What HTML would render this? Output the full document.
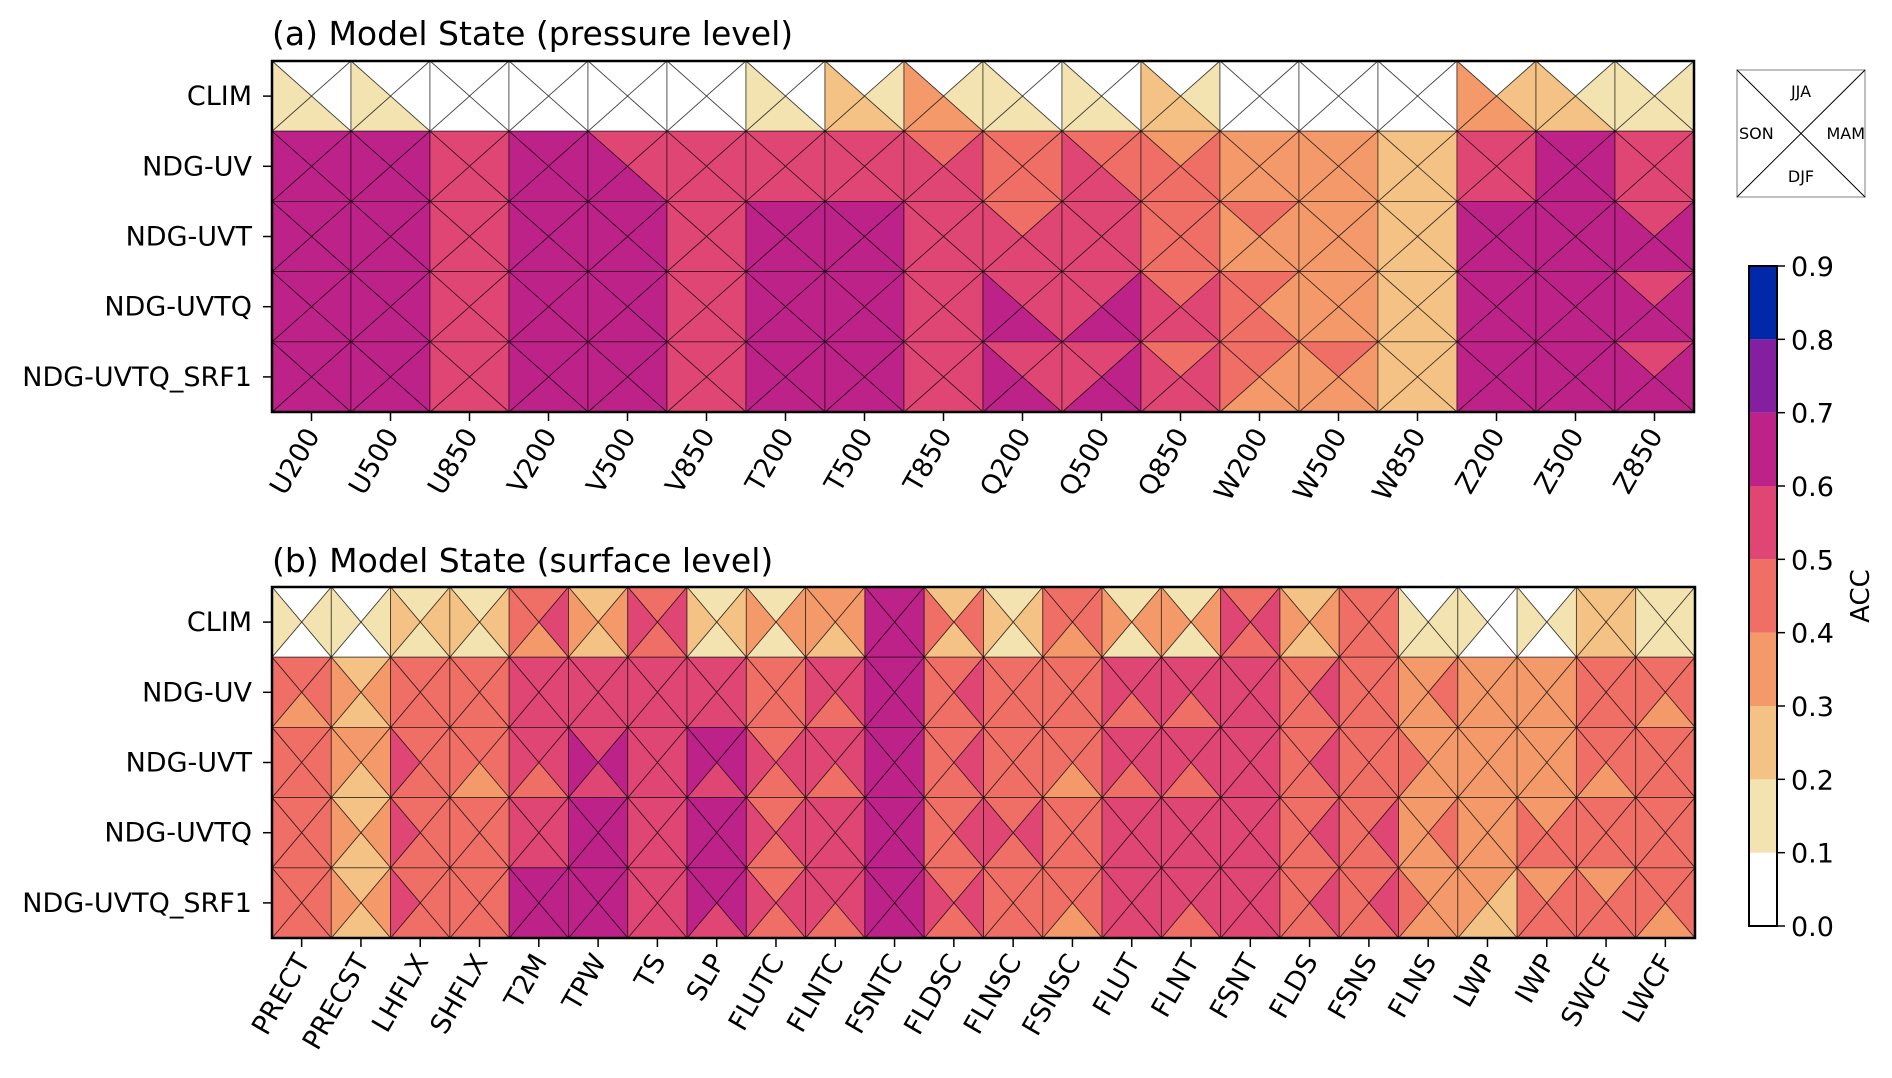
<!DOCTYPE html>
<html><head><meta charset="utf-8">
<style>
html,body{margin:0;padding:0;background:#fff;}
svg{display:block;font-family:"DejaVu Sans","Liberation Sans",sans-serif;}
</style></head>
<body>
<svg id="chart" width="1892" height="1078" viewBox="0 0 1892 1078" xmlns="http://www.w3.org/2000/svg">
<text x="272" y="45" font-size="33" fill="#000">(a) Model State (pressure level)</text>
<text x="272" y="572" font-size="33" fill="#000">(b) Model State (surface level)</text>
<g id="pa"></g>
<g id="pb"></g>
<g>
<rect x="1737" y="70" width="128" height="127" fill="#fff" stroke="#aaa" stroke-width="1.5"/>
<line x1="1737" y1="70" x2="1865" y2="197" stroke="#000" stroke-width="1"/>
<line x1="1865" y1="70" x2="1737" y2="197" stroke="#000" stroke-width="1"/>
<text x="1801" y="97" font-size="16" text-anchor="middle">JJA</text>
<text x="1801" y="182" font-size="16" text-anchor="middle">DJF</text>
<text x="1739" y="139" font-size="16">SON</text>
<text x="1865" y="139" font-size="16" text-anchor="end">MAM</text>
</g>
<g id="cb"></g>
<text x="0" y="0" font-size="26" text-anchor="middle" transform="translate(1869,596) rotate(-90)">ACC</text>
</svg>
<script>
const NS="http://www.w3.org/2000/svg";
const rowLabels=["CLIM","NDG-UV","NDG-UVT","NDG-UVTQ","NDG-UVTQ_SRF1"];
const pressureVars=["U200","U500","U850","V200","V500","V850","T200","T500","T850","Q200","Q500","Q850","W200","W500","W850","Z200","Z500","Z850"];
const surfaceVars=["PRECT","PRECST","LHFLX","SHFLX","T2M","TPW","TS","SLP","FLUTC","FLNTC","FSNTC","FLDSC","FLNSC","FSNSC","FLUT","FLNT","FSNT","FLDS","FSNS","FLNS","LWP","IWP","SWCF","LWCF"];
// each cell: [JJA(top), MAM(right), DJF(bottom), SON(left)] or single value for all four
const pCLIM=[[.05,.05,.15,.15],[.05,.05,.15,.15],.05,.05,.05,.05,[.05,.05,.15,.15],[.05,.15,.25,.25],[.05,.15,.35,.35],[.05,.05,.15,.15],[.05,.05,.15,.15],[.05,.15,.25,.25],.05,.05,.05,[.05,.25,.35,.35],[.05,.15,.25,.25],[.05,.15,.15,.15]];
const pUV=[.65,.65,.55,.65,[.55,.55,.65,.65],.55,.55,.55,[.45,.55,.55,.55],.45,[.45,.45,.55,.55],[.35,.45,.45,.45],.35,.35,.25,.55,.65,.55];
const pUVT=[.65,.65,.55,.65,.65,.55,.65,.65,.55,[.45,.55,.55,.55],.55,.45,[.45,.35,.35,.35],.35,.25,.65,.65,[.55,.65,.65,.65]];
const pUVTQ=[.65,.65,.55,.65,.65,.55,.65,.65,.55,[.55,.55,.65,.65],[.55,.65,.65,.55],[.45,.55,.55,.55],[.45,.35,.45,.45],.35,.25,.65,.65,[.55,.65,.65,.65]];
const pSRF1=[.65,.65,.55,.65,.65,.55,.65,.65,.55,[.55,.55,.65,.65],[.55,.65,.65,.55],[.45,.55,.55,.55],[.45,.35,.35,.45],[.45,.35,.35,.35],.25,.65,.65,[.55,.65,.65,.65]];
const sCLIM=[[.05,.15,.05,.15],[.05,.15,.05,.15],[.15,.25,.15,.25],[.15,.25,.15,.25],[.45,.55,.35,.45],[.25,.35,.25,.35],[.45,.55,.45,.55],[.15,.25,.15,.25],[.15,.35,.15,.35],[.35,.35,.25,.35],.65,[.25,.45,.25,.45],[.15,.25,.15,.25],[.45,.45,.35,.45],[.15,.35,.15,.35],[.15,.35,.15,.35],[.45,.55,.45,.55],[.25,.35,.25,.35],.45,[.05,.15,.15,.15],[.05,.05,.05,.15],[.05,.15,.05,.15],.25,.15];
const sUV=[[.45,.45,.35,.45],[.25,.35,.25,.35],.45,.45,.55,.55,.55,.55,.45,[.55,.55,.45,.55],.65,[.45,.55,.45,.45],.45,.45,[.55,.55,.45,.55],[.55,.55,.45,.55],.55,[.45,.55,.45,.45],.45,[.35,.45,.35,.35],.35,.35,.45,[.45,.45,.35,.45]];
const sUVT=[.45,[.35,.35,.25,.35],[.45,.45,.45,.55],[.45,.45,.35,.45],[.55,.55,.45,.55],[.55,.65,.55,.65],.55,[.65,.65,.55,.65],[.45,.55,.45,.55],[.55,.55,.45,.55],.65,[.45,.55,.45,.45],.45,[.45,.45,.35,.45],[.55,.55,.45,.55],[.55,.55,.45,.55],.55,[.45,.55,.45,.45],.45,[.35,.35,.35,.45],.35,.35,[.45,.45,.35,.45],.45];
const sUVTQ=[.45,[.25,.35,.25,.35],[.45,.45,.45,.55],.45,.55,.65,.55,.65,[.45,.55,.45,.55],.55,.65,[.45,.55,.45,.45],[.45,.55,.45,.55],.45,.55,.55,.55,[.45,.55,.45,.45],[.45,.55,.45,.45],[.35,.45,.35,.35],.35,[.35,.45,.45,.45],.45,.45];
const sSRF1=[.45,[.25,.35,.25,.35],[.45,.45,.45,.55],.45,.65,.65,.55,[.65,.65,.55,.65],[.45,.55,.45,.55],[.55,.55,.45,.55],.65,[.45,.55,.45,.55],.45,[.45,.45,.35,.45],.55,[.55,.55,.45,.55],.55,[.45,.55,.45,.45],[.45,.55,.45,.45],[.35,.35,.35,.45],[.35,.25,.25,.35],[.35,.45,.45,.45],[.35,.45,.45,.45],[.45,.45,.35,.45]];
const cbTicks=[0.0,0.1,0.2,0.3,0.4,0.5,0.6,0.7,0.8,0.9];

const binColors=["#ffffff","#f2e3b0","#f5c285","#f49a6a","#ef6f66","#df4673","#bd2288","#8420a0","#0028a8"];
function colorOf(v){let i=Math.floor(v*10+1e-9);if(i<0)i=0;if(i>8)i=8;return binColors[i];}
function el(tag,attrs,parent){const e=document.createElementNS(NS,tag);for(const k in attrs)e.setAttribute(k,attrs[k]);parent.appendChild(e);return e;}

function drawPanel(g,gx,gy,gw,gh,vars,rowsData,prefix){
  const nc=vars.length,nr=rowsData.length,cw=gw/nc,rh=gh/nr;
  const xs=i=>gx+i*cw, ys=j=>gy+j*rh;
  const seasons=["jja","mam","djf","son"];
  rowsData.forEach((row,r)=>{
    row.forEach((cell,c)=>{
      const v=Array.isArray(cell)?cell:[cell,cell,cell,cell];
      const x0=xs(c),x1=xs(c+1),y0=ys(r),y1=ys(r+1),cx=(x0+x1)/2,cy=(y0+y1)/2;
      const tri=[[[x0,y0],[x1,y0]],[[x1,y0],[x1,y1]],[[x1,y1],[x0,y1]],[[x0,y1],[x0,y0]]];
      tri.forEach((t,k)=>{
        const p=el("polygon",{points:`${t[0][0]},${t[0][1]} ${t[1][0]},${t[1][1]} ${cx},${cy}`,fill:colorOf(v[k]),stroke:"rgba(0,0,0,0.6)","stroke-width":"0.9"},g);
        
        
      });
    });
  });
  const fr=el("rect",{x:gx,y:gy,width:gw,height:gh,fill:"none",stroke:"#000","stroke-width":"2.5"},g);
  
  
  rowLabels.forEach((lab,r)=>{
    const cy=ys(r)+rh/2;
    el("line",{x1:gx-9,y1:cy,x2:gx,y2:cy,stroke:"#000","stroke-width":"1.5"},g);
    const t=el("text",{x:gx-20,y:cy+9,"font-size":"27","text-anchor":"end",fill:"#000"},g);
    t.textContent=lab;
    
    
  });
  vars.forEach((lab,c)=>{
    const cx=xs(c)+cw/2,yb=gy+gh;
    el("line",{x1:cx,y1:yb,x2:cx,y2:yb+9,stroke:"#000","stroke-width":"1.5"},g);
    const t=el("text",{"font-size":"27","text-anchor":"end",fill:"#000",transform:`translate(${cx+9},${yb+23}) rotate(-60)`},g);
    t.textContent=lab;
    
    
  });
}
drawPanel(document.getElementById("pa"),272,61,1422,351,pressureVars,[pCLIM,pUV,pUVT,pUVTQ,pSRF1],"pressure");
drawPanel(document.getElementById("pb"),272,587,1423,351,surfaceVars,[sCLIM,sUV,sUVT,sUVTQ,sSRF1],"surface");

(function(){
  const g=document.getElementById("cb");
  const cx=1749,cw=28,top=266,bot=926,vmin=0,vmax=0.9;
  const yv=v=>bot-(v-vmin)/(vmax-vmin)*(bot-top);
  for(let i=0;i<cbTicks.length-1;i++){
    const r=el("rect",{x:cx,y:yv(cbTicks[i+1]),width:cw,height:yv(cbTicks[i])-yv(cbTicks[i+1]),fill:colorOf(cbTicks[i]+0.05)},g);
    
    
  }
  el("rect",{x:cx,y:top,width:cw,height:bot-top,fill:"none",stroke:"#000","stroke-width":"2"},g);
  cbTicks.forEach(v=>{
    const y=yv(v);
    el("line",{x1:cx+cw,y1:y,x2:cx+cw+8,y2:y,stroke:"#000","stroke-width":"1.5"},g);
    const t=el("text",{x:cx+cw+14,y:y+10,"font-size":"27",fill:"#000"},g);
    t.textContent=v.toFixed(1);
    
    
  });
})();
</script>
</body></html>
